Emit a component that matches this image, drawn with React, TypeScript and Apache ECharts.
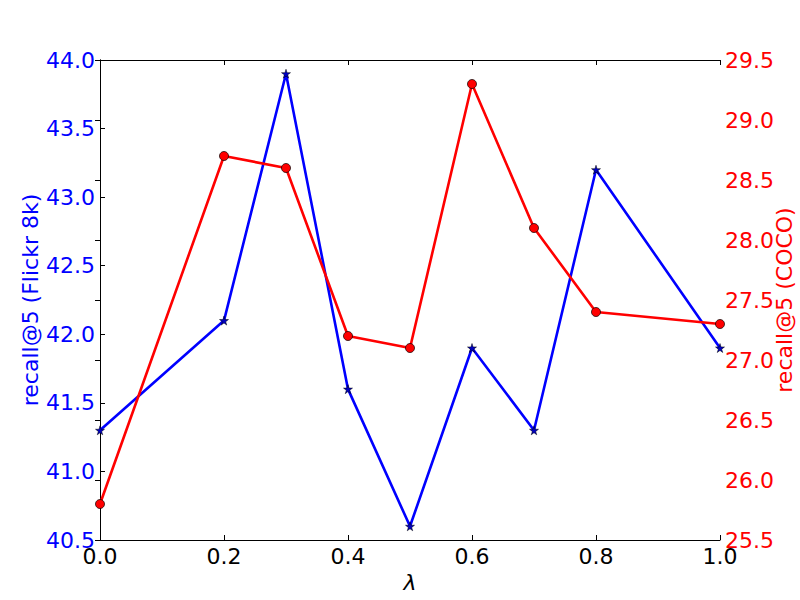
import React, { useEffect, useRef } from "react";
import * as echarts from "echarts";

const lambdas = [0.0, 0.2, 0.3, 0.4, 0.5, 0.6, 0.7, 0.8, 1.0];
const flickr = [41.3, 42.1, 43.9, 41.6, 40.6, 41.9, 41.3, 43.2, 41.9];
const coco = [25.8, 28.7, 28.6, 27.2, 27.1, 29.3, 28.1, 27.4, 27.3];

const FONT = "DejaVu Sans";
const STAR = "path://M50,0 L61,35 L98,35 L68,57 L79,91 L50,70 L21,91 L32,57 L2,35 L39,35 Z";

export default function App() {
  const ref = useRef<HTMLDivElement>(null);
  useEffect(() => {
    if (!ref.current) return;
    const chart = echarts.init(ref.current, null, { renderer: "svg" });
    const axisLine = { show: true, lineStyle: { color: "#000", width: 1 } };
    const tick = { show: true, inside: true, length: 5, lineStyle: { color: "#000", width: 1 } };
    chart.setOption({
      animation: false,
      backgroundColor: "#fff",
      textStyle: { fontFamily: FONT },
      grid: {
        left: 100,
        right: 80,
        top: 60,
        bottom: 60,
        containLabel: false,
        outerBoundsMode: "none",
      },
      graphic: [
        {
          type: "text",
          x: 30,
          y: 300,
          rotation: Math.PI / 2,
          style: {
            text: "recall@5 (Flickr 8k)",
            fill: "#0000ff",
            font: `22px "${FONT}"`,
            align: "center",
            verticalAlign: "middle",
          },
        },
        {
          type: "text",
          x: 784,
          y: 300,
          rotation: Math.PI / 2,
          style: {
            text: "recall@5 (COCO)",
            fill: "#ff0000",
            font: `22px "${FONT}"`,
            align: "center",
            verticalAlign: "middle",
          },
        },
      ],
      xAxis: [
        {
          type: "value",
          position: "bottom",
          min: 0,
          max: 1,
          interval: 0.2,
          axisLine,
          axisTick: tick,
          splitLine: { show: false },
          axisLabel: {
            color: "#000",
            fontSize: 22,
            fontFamily: FONT,
            margin: 5,
            hideOverlap: false,
            formatter: (v: number) => v.toFixed(1),
          },
          name: "λ",
          nameLocation: "middle",
          nameGap: 30,
          nameTextStyle: { color: "#000", fontSize: 22, fontFamily: FONT, fontStyle: "italic" },
        },
        {
          type: "value",
          position: "top",
          min: 0,
          max: 1,
          interval: 0.2,
          axisLine,
          axisTick: tick,
          splitLine: { show: false },
          axisLabel: { show: false },
        },
      ],
      yAxis: [
        {
          type: "value",
          position: "left",
          min: 40.5,
          max: 44.0,
          interval: 0.5,
          axisLine,
          axisTick: tick,
          splitLine: { show: false },
          axisLabel: {
            color: "#0000ff",
            fontSize: 22,
            fontFamily: FONT,
            margin: 5,
            formatter: (v: number) => v.toFixed(1),
          },
        },
        {
          type: "value",
          position: "right",
          min: 25.5,
          max: 29.5,
          interval: 0.5,
          axisLine,
          axisTick: tick,
          splitLine: { show: false },
          axisLabel: {
            color: "#ff0000",
            fontSize: 22,
            fontFamily: FONT,
            margin: 5,
            formatter: (v: number) => v.toFixed(1),
          },
        },
      ],
      series: [
        {
          type: "line",
          xAxisIndex: 0,
          yAxisIndex: 0,
          data: lambdas.map((x, i) => [x, flickr[i]]),
          symbol: STAR,
          symbolSize: 9,
          showSymbol: true,
          clip: true,
          lineStyle: { color: "#0000ff", width: 2.6 },
          itemStyle: { color: "#0000bf", borderColor: "#000", borderWidth: 0.5 },
          z: 2,
        },
        {
          type: "line",
          xAxisIndex: 0,
          yAxisIndex: 1,
          data: lambdas.map((x, i) => [x, coco[i]]),
          symbol: "circle",
          symbolSize: 9,
          showSymbol: true,
          clip: true,
          lineStyle: { color: "#ff0000", width: 2.6 },
          itemStyle: { color: "#ff0000", borderColor: "#000", borderWidth: 0.7 },
          z: 3,
        },
      ],
    });
    return () => chart.dispose();
  }, []);
  return (
    <div
      ref={ref}
      style={{ position: "fixed", left: 0, top: 0, width: 800, height: 600, background: "#fff" }}
    />
  );
}
